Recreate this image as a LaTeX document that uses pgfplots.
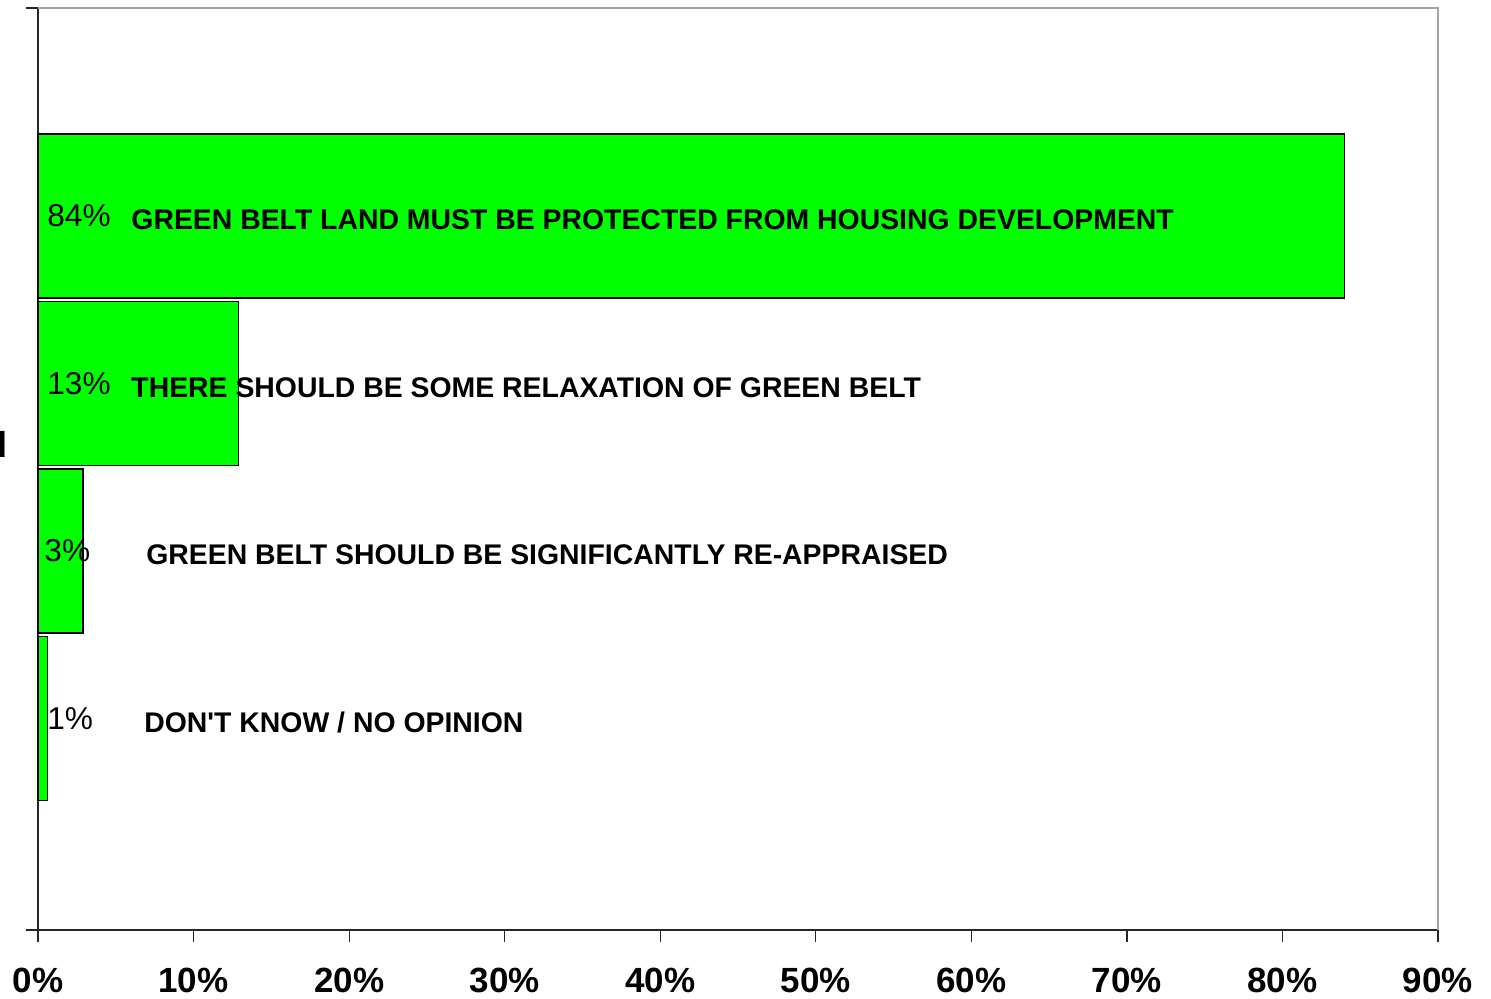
\documentclass[border=0pt]{standalone}
\usepackage{pgfplots}
\pgfplotsset{compat=1.18}
\usepackage{pgfplotstable}
\usepackage{fontspec}
\setmainfont{Liberation Sans}
\usetikzlibrary{calc}

\definecolor{barfill}{RGB}{0,255,0}
\definecolor{frameline}{RGB}{165,165,165}

% y = slot (top to bottom 4..1), val = bar length, px/tx = label positions
\pgfplotstableread[col sep=comma]{
y,val,px,pct,tx,label
4,84,0.58,84,5.98,GREEN BELT LAND MUST BE PROTECTED FROM HOUSING DEVELOPMENT
3,12.9,0.58,13,5.98,THERE SHOULD BE SOME RELAXATION OF GREEN BELT
2,2.9,0.39,3,6.94,GREEN BELT SHOULD BE SIGNIFICANTLY RE-APPRAISED
1,0.62,0.58,1,6.81,DON\textquotesingle T KNOW / NO OPINION
}\greenbelt

\begin{document}
\begin{tikzpicture}
\begin{axis}[name=ax, scale only axis, width=700pt, height=461pt,
    xmin=0, xmax=90, ymin=-0.263, ymax=5.242,
    axis lines=left, axis line style={-, black!85, line width=0.75pt},
    tick align=outside, major tick length=6pt,
    tick style={black!85, line width=0.6pt},
    xtick={0,10,20,30,40,50,60,70,80,90},
    xticklabels={0\%,10\%,20\%,30\%,40\%,50\%,60\%,70\%,80\%,90\%},
    xticklabel style={font=\fontsize{17.5}{20}\selectfont\bfseries, inner sep=0pt, yshift=-13pt},
    ytick={-0.263,5.242}, yticklabels={},
    clip=false]
  \draw[frameline, line width=0.75pt] (rel axis cs:0,1) -- (rel axis cs:1,1) -- (rel axis cs:1,0);
  \addplot[xbar, bar width=0.98, fill=barfill, draw=black, line width=0.75pt]
    table[x=val, y=y]{\greenbelt};
  \addplot[draw=none, point meta=explicit,
    nodes near coords={\pgfmathprintnumber[assume math mode=true]{\pgfplotspointmeta}\%},
    nodes near coords style={anchor=west, inner sep=0pt, font=\fontsize{15.8}{18}\selectfont}]
    table[x=px, y=y, meta=pct]{\greenbelt};
  \addplot[draw=none, point meta=explicit symbolic,
    nodes near coords,
    nodes near coords style={anchor=west, inner sep=0pt, yshift=-2pt, font=\fontsize{14.2}{17}\selectfont\bfseries}]
    table[x=tx, y=y, meta=label]{\greenbelt};
\end{axis}
\node[anchor=base east, inner sep=0pt, font=\fontsize{18}{20}\selectfont\bfseries] at ($(ax.south west)+(-15pt,236pt)$) {d};
\pgfresetboundingbox
\path ($(ax.south west)+(-19pt,-34.5pt)$) rectangle ($(ax.north east)+(26.5pt,4pt)$);
\end{tikzpicture}
\end{document}
